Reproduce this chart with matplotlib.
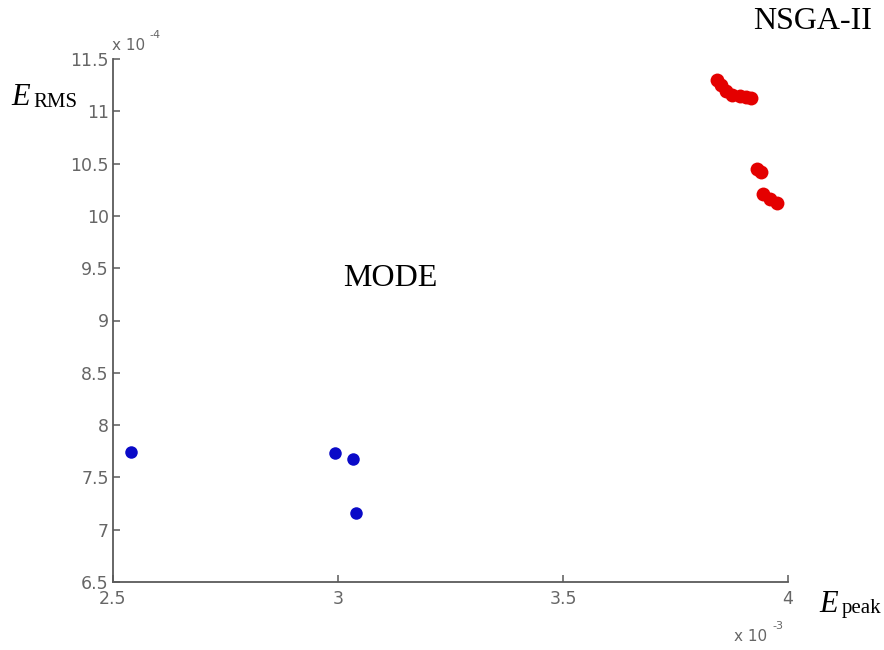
import matplotlib
matplotlib.use('Agg')
import matplotlib.pyplot as plt

# Frentes de Pareto (E_peak en 1e-3, E_RMS en 1e-4)
mode_peak = [2.539, 2.993, 3.034, 3.041]
mode_rms = [7.745, 7.730, 7.672, 7.163]

nsga_peak = [3.842, 3.852, 3.862, 3.876, 3.893, 3.907, 3.918,
             3.930, 3.941, 3.945, 3.960, 3.976]
nsga_rms = [11.295, 11.255, 11.195, 11.160, 11.150, 11.138, 11.128,
            10.450, 10.415, 10.210, 10.165, 10.120]

x_ticks = [2.5, 3, 3.5, 4]
x_labels = ['2.5', '3', '3.5', '4']
y_ticks = [6.5, 7, 7.5, 8, 8.5, 9, 9.5, 10, 10.5, 11, 11.5]
y_labels = ['6.5', '7', '7.5', '8', '8.5', '9', '9.5', '10', '10.5', '11', '11.5']

W, H = 884, 650
fig = plt.figure(figsize=(W / 100, H / 100), dpi=100)
ax = fig.add_axes([113 / W, 1 - 582 / H, (788 - 113) / W, (582 - 59) / H])


def px(x, y):
    # pixeles de la figura -> fracción de figura
    return x / W, 1 - y / H


gris = '#5a5a5a'
ax.plot(mode_peak, mode_rms, 'o', color='#0a0ac8', markersize=9, markeredgewidth=0)
ax.plot(nsga_peak, nsga_rms, 'o', color='#e40000', markersize=10, markeredgewidth=0)

ax.set_xlim(2.5, 4)
ax.set_ylim(6.5, 11.5)
ax.set_xticks(x_ticks)
ax.set_xticklabels(x_labels)
ax.set_yticks(y_ticks)
ax.set_yticklabels(y_labels)

for lado in ['top', 'right']:
    ax.spines[lado].set_visible(False)
for lado in ['left', 'bottom']:
    ax.spines[lado].set_color(gris)
    ax.spines[lado].set_linewidth(1.3)

ax.tick_params(direction='in', length=5, width=1.1, color=gris,
               labelcolor='#666666', labelsize=12.5)
ax.tick_params(axis='y', pad=3)
ax.tick_params(axis='x', pad=6)

serif = 'Liberation Serif'
# Exponentes de los ejes estilo MATLAB
fig.text(*px(112, 50), 'x 10', fontsize=11, color='#666666', va='baseline')
fig.text(*px(149, 38), '-4', fontsize=8, color='#666666', va='baseline')
fig.text(*px(734, 641), 'x 10', fontsize=11, color='#666666', va='baseline')
fig.text(*px(772, 629), '-3', fontsize=8, color='#666666', va='baseline')

# Etiquetas de los ejes
fig.text(*px(11, 105), 'E', family=serif, style='italic', fontsize=22, va='baseline')
fig.text(*px(33, 107), 'RMS', family=serif, fontsize=15, va='baseline')
fig.text(*px(819, 612), 'E', family=serif, style='italic', fontsize=22, va='baseline')
fig.text(*px(842, 613), 'peak', family=serif, fontsize=15, va='baseline')

# Nombres de los algoritmos
fig.text(*px(753, 29), 'NSGA-II', family=serif, fontsize=23, va='baseline')
fig.text(*px(343, 286), 'MODE', family=serif, fontsize=23, va='baseline')

fig.savefig('out.png', dpi=100, facecolor='white')
